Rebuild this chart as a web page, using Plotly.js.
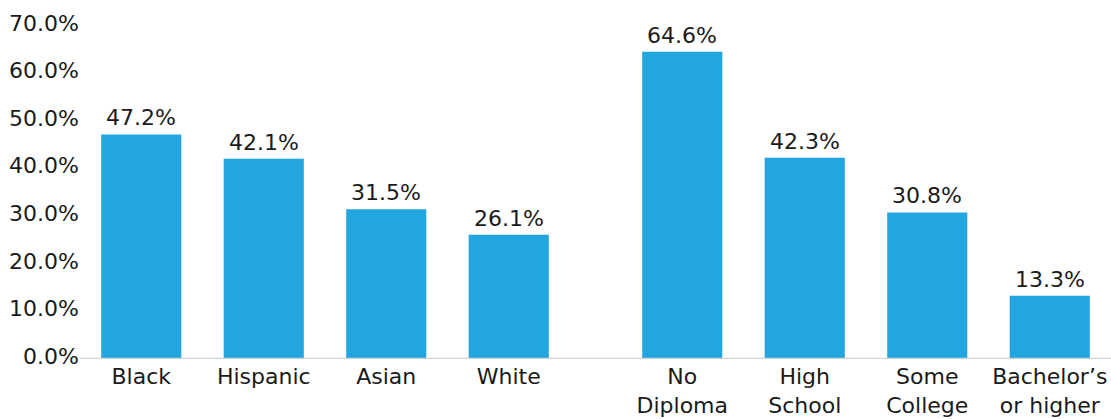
<!DOCTYPE html>
<html>
<head>
<meta charset="utf-8">
<script src="https://cdn.plot.ly/plotly-3.0.1.min.js"></script>
<style>html,body{margin:0;padding:0;background:#fff}#chart{width:1111px;height:419px}</style>
</head>
<body>
<div id="chart"></div>
<script>
const raceCategories = ["Black", "Hispanic", "Asian", "White"];
const raceValues = [47.2, 42.1, 31.5, 26.1];
const eduCategories = ["No<br>Diploma", "High<br>School", "Some<br>College", "Bachelor\u2019s<br>or higher"];
const eduValues = [64.6, 42.3, 30.8, 13.3];
const yTickValues = [0, 10, 20, 30, 40, 50, 60, 70];
const yTickLabels = ["0.0%", "10.0%", "20.0%", "30.0%", "40.0%", "50.0%", "60.0%", "70.0%"];

const barColor = "#23A6DF";
const fontFamily = "'DejaVu Sans', sans-serif";
const textColor = "#1a1a1a";
const fs = 22;

const traces = [
  {type: "bar", x: raceCategories, y: raceValues, xaxis: "x", yaxis: "y",
   marker: {color: barColor}, hoverinfo: "none"},
  {type: "bar", x: eduCategories, y: eduValues, xaxis: "x2", yaxis: "y",
   marker: {color: barColor}, hoverinfo: "none"}
];

const annotations = [];
raceCategories.forEach((c, i) => annotations.push({
  x: c, y: raceValues[i], xref: "x", yref: "y", text: raceValues[i].toFixed(1) + "%",
  showarrow: false, yanchor: "bottom", yshift: 2, font: {size: fs, color: textColor, family: fontFamily}
}));
eduCategories.forEach((c, i) => annotations.push({
  x: c, y: eduValues[i], xref: "x2", yref: "y", text: eduValues[i].toFixed(1) + "%",
  showarrow: false, yanchor: "bottom", yshift: 2, font: {size: fs, color: textColor, family: fontFamily}
}));

const W = 1111;
const layout = {
  width: 1111, height: 419,
  margin: {l: 0, r: 0, t: 26, b: 60},
  paper_bgcolor: "#fff", plot_bgcolor: "rgba(0,0,0,0)",
  showlegend: false,
  bargap: 0.346,
  font: {family: fontFamily, size: fs, color: textColor},
  xaxis: {domain: [80 / W, 570 / W], type: "category", range: [-0.5, 3.5],
          showgrid: false, zeroline: false, showline: false, ticks: "",
          tickfont: {size: fs, color: textColor}, fixedrange: true, ticklabelstandoff: 2},
  xaxis2: {domain: [621 / W, 1], type: "category", range: [-0.5, 3.5], anchor: "y",
           showgrid: false, zeroline: false, showline: false, ticks: "",
           tickfont: {size: fs, color: textColor}, fixedrange: true, ticklabelstandoff: 2},
  yaxis: {range: [0, 70], tickmode: "array", tickvals: yTickValues, ticktext: yTickLabels,
          showgrid: false, zeroline: false, showline: false, ticks: "",
          tickfont: {size: fs, color: textColor}, anchor: "x", fixedrange: true,
          ticklabelstandoff: 0, ticklabelshift: -3},
  shapes: [{type: "line", xref: "paper", yref: "y", x0: 80 / W, x1: 1, y0: 0, y1: 0,
            line: {color: "#d3d3d3", width: 2.5}, layer: "above"}],
  annotations: annotations
};

Plotly.newPlot("chart", traces, layout, {displayModeBar: false, staticPlot: true});
</script>
</body>
</html>
